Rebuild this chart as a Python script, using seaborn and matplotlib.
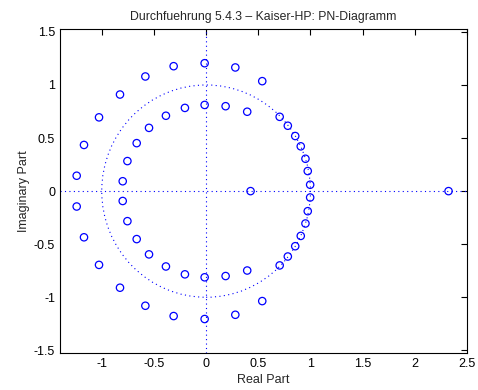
import numpy as np
import pandas as pd
import matplotlib
matplotlib.use('Agg')
import seaborn as sns
import matplotlib.pyplot as plt

# zeros in the upper half plane (mirrored below)
outer_re = [-1.24, -1.17, -1.026, -0.825, -0.582, -0.311, -0.014, 0.28, 0.538]
outer_im = [0.145, 0.435, 0.695, 0.91, 1.08, 1.177, 1.205, 1.165, 1.036]
inner_re = [-0.799, -0.754, -0.665, -0.547, -0.385, -0.203, -0.014, 0.187, 0.394]
inner_im = [0.093, 0.283, 0.452, 0.596, 0.71, 0.784, 0.812, 0.80, 0.748]
unit_re = [0.705, 0.783, 0.854, 0.907, 0.952, 0.974, 0.997]
unit_im = [0.70, 0.616, 0.519, 0.422, 0.305, 0.189, 0.06]
real_zeros = [0.426, 2.323]

xticks = [-1, -0.5, 0, 0.5, 1, 1.5, 2, 2.5]
yticks = [-1.5, -1, -0.5, 0, 0.5, 1, 1.5]

up_re = outer_re + inner_re + unit_re
up_im = outer_im + inner_im + unit_im
df = pd.DataFrame({
    're': up_re + up_re + real_zeros,
    'im': up_im + [-v for v in up_im] + [0.0] * len(real_zeros),
})

sns.set_style('white')
plt.rcParams['font.family'] = ['Liberation Sans', 'DejaVu Sans']
plt.rcParams['axes.unicode_minus'] = False

fig = plt.figure(figsize=(4.78, 3.9), dpi=100)
ax = fig.add_axes([0.1255, 0.0949, 0.977 - 0.1255, 0.925 - 0.0949])

dots = (0, (1, 3))
ax.axhline(0, color='#0000ff', lw=0.8, ls=dots, zorder=1)
ax.axvline(0, color='#0000ff', lw=0.8, ls=dots, zorder=1)
ax.add_patch(plt.Circle((0, 0), 1, fill=False, color='#0000ff', lw=0.8, ls=dots, zorder=1))

sns.scatterplot(data=df, x='re', y='im', marker='o', s=28,
                facecolors='none', edgecolor='#0000ff', linewidth=0.9, ax=ax, zorder=3)

ax.set_xlim(-1.4, 2.5)
ax.set_ylim(-1.525, 1.525)
ax.set_xticks(xticks)
ax.set_yticks(yticks)
ax.set_xticklabels(['%g' % t for t in xticks])
ax.set_yticklabels(['%g' % t for t in yticks])
ax.tick_params(direction='in', length=4, width=0.8, top=True, right=True,
               labelsize=9, colors='black')
for s in ax.spines.values():
    s.set_color('black')
    s.set_linewidth(0.8)

ax.set_xlabel('Real Part', fontsize=9, labelpad=3)
ax.set_ylabel('Imaginary Part', fontsize=9, labelpad=3)
ax.set_title('Durchfuehrung 5.4.3 \u2013 Kaiser-HP: PN-Diagramm', fontsize=8.8, pad=7)

plt.savefig('out.png', dpi=100)
